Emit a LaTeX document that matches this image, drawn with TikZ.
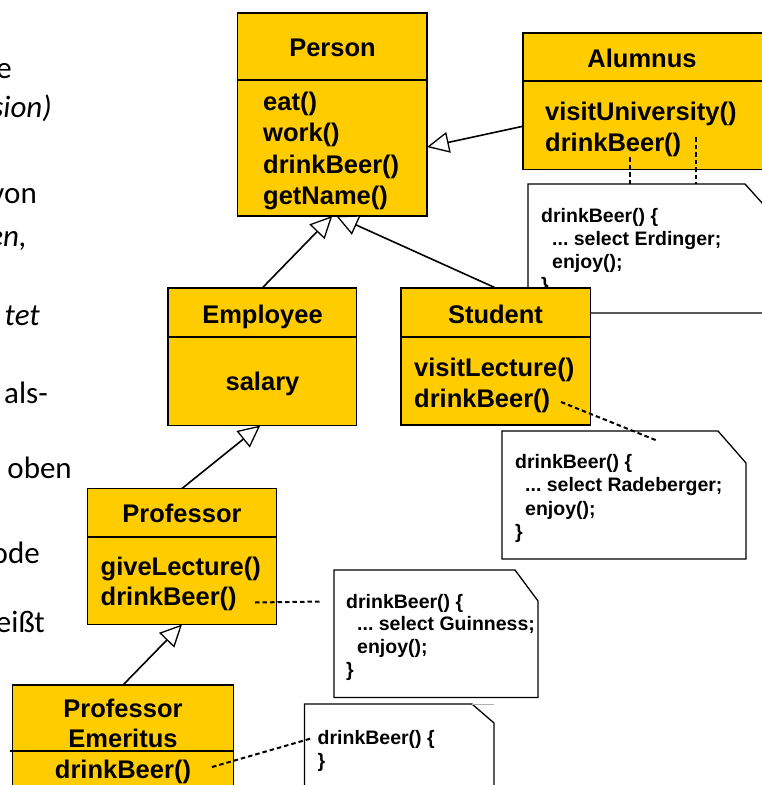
\documentclass[tikz,border=0pt]{standalone}
\usepackage{fontspec}
\setmainfont{Liberation Sans}
\newfontfamily\slidefont{Carlito}
\usetikzlibrary{arrows.meta}
\definecolor{umlyellow}{HTML}{FFCC00}
\frenchspacing

\begin{document}
\begin{tikzpicture}[x=1pt,y=-1pt,
  classbox/.style={draw=black, fill=umlyellow, line width=1.3pt, inner sep=0pt, outer sep=0pt, anchor=north west},
  clstitle/.style={font=\fontsize{25.5}{30}\selectfont\bfseries, anchor=base, inner sep=0pt},
  method/.style={font=\fontsize{25.5}{30}\selectfont\bfseries, anchor=base west, inner sep=0pt},
  divider/.style={line width=1.3pt},
  notebox/.style={draw=black, fill=white, line width=1.3pt, line join=miter},
  notetext/.style={font=\fontsize{19.5}{23}\selectfont\bfseries, anchor=base west, inner sep=0pt},
  inherit/.style={line width=1.6pt, -{Triangle[length=22pt,width=21pt,fill=white,line width=1.3pt]}},
  noteline/.style={line width=2pt, dash pattern=on 4.5pt off 3pt},
  slide/.style={font=\slidefont\fontsize{31}{36}\selectfont, anchor=base east, inner sep=0pt}
]
\useasboundingbox (0,0) rectangle (762,785);
\fill[white] (0,0) rectangle (762,785);
\clip (0,0) rectangle (762,785);

% slide text fragments at the left border (cut off as in the reference)
\node[slide] (t1) at (12,78) {e};
\node[slide] (t2) at (52,117) {\itshape sion)};
\node[slide] (t3) at (37,203) {von};
\node[slide] (t4) at (27,246) {\itshape en,};
\node[slide] (t5) at (40,325) {\itshape tet};
\node[slide] (t6) at (48,403) {als-};
\node[slide] (t7) at (72,478) {n oben};
\node[slide] (t8) at (40,563) {ode};
\node[slide] (t9) at (45,632) {eißt};

% note of Alumnus (behind Student)
\draw[notebox] (528,184) -- (745,184) -- (772,214) -- (772,313) -- (528,313) -- cycle;
\node[notetext] (n1a) at (541,222) {drinkBeer() \{};
\node[notetext] (n1b) at (552,245) {... select Erdinger;};
\node[notetext] (n1c) at (552,268) {enjoy();};
\node[notetext] (n1d) at (541,291) {\}};

% Person
\node[classbox, minimum width=189.5pt, minimum height=203pt] (person) at (237.5,13) {};
\draw[divider] (237.5,80) -- (427,80);
\node[clstitle] (personT) at (332.5,56) {Person};
\node[method] (p1) at (263,110) {eat()};
\node[method] (p2) at (263,141.5) {work()};
\node[method] (p3) at (263,173) {drinkBeer()};
\node[method] (p4) at (263,204) {getName()};

% Alumnus
\node[classbox, minimum width=245pt, minimum height=136.5pt] (alumnus) at (523,33) {};
\draw[divider] (523,81) -- (768,81);
\node[clstitle] (alumnusT) at (642,67) {Alumnus};
\node[method] (a1) at (545,120) {visitUniversity()};
\node[method] (a2) at (545,151.5) {drinkBeer()};

% Employee
\node[classbox, minimum width=188.5pt, minimum height=137.5pt] (employee) at (168,288) {};
\draw[divider] (168,337) -- (356.5,337);
\node[clstitle] (employeeT) at (262.5,323) {Employee};
\node[clstitle] (e1) at (262.5,390) {salary};

% Student
\node[classbox, minimum width=189.5pt, minimum height=137pt] (student) at (401,288) {};
\draw[divider] (401,337) -- (590.5,337);
\node[clstitle] (studentT) at (495.5,323) {Student};
\node[method] (s1) at (414,376) {visitLecture()};
\node[method] (s2) at (414,407) {drinkBeer()};

% Professor
\node[classbox, minimum width=189pt, minimum height=136pt] (professor) at (87.5,488.5) {};
\draw[divider] (87.5,537) -- (276.5,537);
\node[clstitle] (professorT) at (182,522) {Professor};
\node[method] (pr1) at (100.5,575) {giveLecture()};
\node[method] (pr2) at (100.5,605) {drinkBeer()};

% Professor Emeritus
\node[classbox, minimum width=221pt, minimum height=130pt] (emeritus) at (12.5,685) {};
\draw[divider] (10,751) -- (233.5,751);
\node[clstitle] (emeritusT1) at (123,717) {Professor};
\node[clstitle] (emeritusT2) at (123,747) {Emeritus};
\node[clstitle] (em1) at (123,778) {drinkBeer()};

% note of Student
\draw[notebox] (502,431) -- (718,431) -- (746,463) -- (746,559) -- (502,559) -- cycle;
\node[notetext] (n2a) at (515,468) {drinkBeer() \{};
\node[notetext] (n2b) at (525,491.5) {... select Radeberger;};
\node[notetext] (n2c) at (525,515) {enjoy();};
\node[notetext] (n2d) at (515,538.5) {\}};

% note of Professor
\draw[notebox] (334,570) -- (515,570) -- (538,601) -- (538,697.5) -- (334,697.5) -- cycle;
\node[notetext] (n3a) at (346,608) {drinkBeer() \{};
\node[notetext] (n3b) at (357,630.5) {... select Guinness;};
\node[notetext] (n3c) at (357,653) {enjoy();};
\node[notetext] (n3d) at (346,676) {\}};

% note of Professor Emeritus
\draw[notebox] (304.5,704) -- (472,704) -- (494,723) -- (494,800) -- (304.5,800) -- cycle;
\draw[gray!60, line width=0.6pt] (472,704) -- (494,704);
\node[notetext] (n4a) at (317.5,744) {drinkBeer() \{};
\node[notetext] (n4b) at (317.5,767) {\}};

% inheritance connectors
\draw[inherit] ([yshift=-25pt]alumnus.west) -- ([yshift=-32.5pt]person.east);
\draw[inherit] (employee.north) -- (person.south);
\draw[inherit] (student.north) -- ([xshift=4pt]person.south);
\draw[inherit] (professor.north) -- ([xshift=-2pt]employee.south);
\draw[inherit] (emeritus.north) -- (professor.south);

% note attachments
\coordinate (ca1) at (630,157);
\coordinate (ca1n) at (630,184);
\coordinate (ca2) at (696,137);
\coordinate (ca2n) at (696,184);
\coordinate (cs) at (561,402);
\coordinate (csn) at (658,441);
\coordinate (cp) at (255,602.5);
\coordinate (cpn) at (322,601.5);
\coordinate (ce) at (212,767);
\coordinate (cen) at (311,738.5);
\draw[noteline] (ca1) -- (ca1n);
\draw[noteline] (ca2) -- (ca2n);
\draw[noteline] (cs) -- (csn);
\draw[noteline] (cp) -- (cpn);
\draw[noteline] (ce) -- (cen);
\end{tikzpicture}
\end{document}
